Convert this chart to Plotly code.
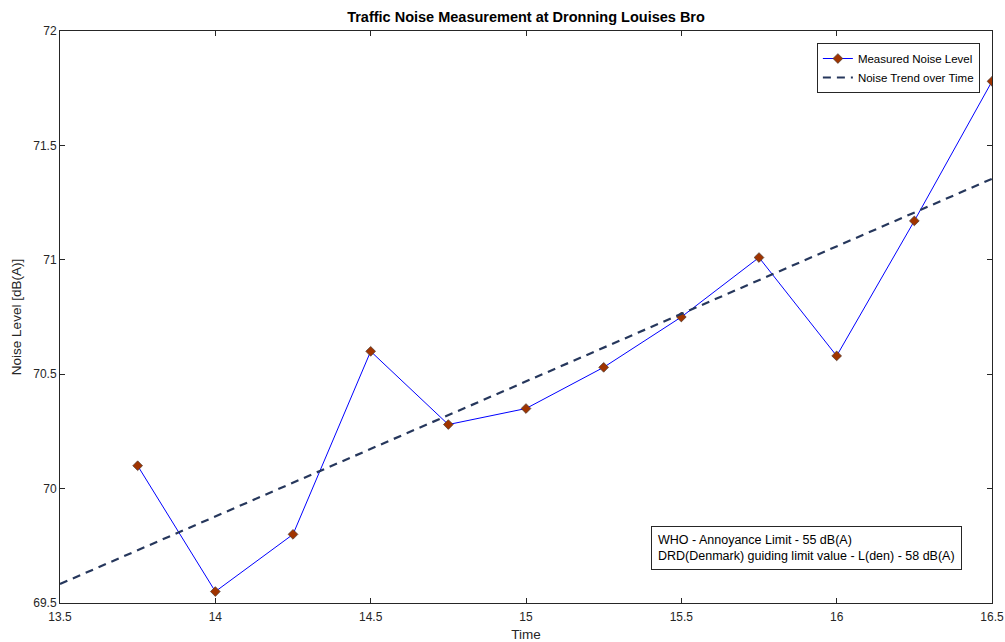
import plotly.graph_objects as go

time_h = [13.75, 14.0, 14.25, 14.5, 14.75, 15.0, 15.25, 15.5, 15.75, 16.0, 16.25, 16.5]
noise_db = [70.10, 69.55, 69.80, 70.60, 70.28, 70.35, 70.53, 70.75, 71.01, 70.58, 71.17, 71.78]
trend_x = [13.5, 16.5]
trend_y = [69.583, 71.354]
x_ticks = [13.5, 14, 14.5, 15, 15.5, 16, 16.5]
y_ticks = [69.5, 70, 70.5, 71, 71.5, 72]
note_lines = ["WHO - Annoyance Limit - 55 dB(A)",
              "DRD(Denmark) guiding limit value - L(den) - 58 dB(A)"]

FONT = "Liberation Sans, Arial, Helvetica, sans-serif"
AX = "#262626"

fig = go.Figure()
fig.add_trace(go.Scatter(
    x=time_h, y=noise_db, mode="lines+markers", name="Measured Noise Level",
    line=dict(color="rgb(0,0,255)", width=1),
    marker=dict(symbol="diamond", size=7.5, color="rgb(160,52,0)",
                line=dict(color="#4a3a30", width=0.7)),
))
fig.add_trace(go.Scatter(
    x=trend_x, y=trend_y, mode="lines", name="Noise Trend over Time",
    line=dict(color="rgb(38,55,92)", width=2.2, dash="8px,6px"),
))

axis_common = dict(
    showgrid=False, zeroline=False, showline=True, linecolor=AX, linewidth=1,
    mirror="ticks", ticks="inside", ticklen=5, tickcolor=AX, tickwidth=1,
    tickfont=dict(family=FONT, size=12, color=AX), automargin=False,
)
fig.update_xaxes(range=[13.5, 16.5], tickvals=x_ticks,
                 ticktext=[f"{v:g}" for v in x_ticks], ticklabelstandoff=3,
                 title=dict(text="Time", font=dict(family=FONT, size=13.5, color=AX), standoff=10),
                 **axis_common)
fig.update_yaxes(range=[69.5, 72], tickvals=y_ticks,
                 ticktext=[f"{v:g}" for v in y_ticks],
                 title=dict(text="Noise Level [dB(A)]", font=dict(family=FONT, size=13.5, color=AX), standoff=8),
                 **axis_common)

fig.add_annotation(
    xref="paper", yref="paper", x=0.8015, y=0.0953, xanchor="center", yanchor="middle",
    text="<br>".join(note_lines), showarrow=False, align="left",
    font=dict(family=FONT, size=12.5, color="#000000"),
    bordercolor="#262626", borderwidth=1, borderpad=6, bgcolor="white",
)

fig.update_layout(
    width=1005, height=642,
    margin=dict(l=60, r=13, t=31, b=39),
    paper_bgcolor="white", plot_bgcolor="white",
    title=dict(text="<b>Traffic Noise Measurement at Dronning Louises Bro</b>",
               x=(60 + 992) / 2 / 1005, xanchor="center", y=1 - 17 / 642, yanchor="middle",
               font=dict(family=FONT, size=14.5, color="#000000")),
    legend=dict(x=0.987, y=0.979, xanchor="right", yanchor="top",
                bordercolor="#262626", borderwidth=1, bgcolor="white",
                font=dict(family=FONT, size=11.5, color="#000000"),
                tracegroupgap=0, itemwidth=30),
    showlegend=True,
)

fig.write_html("out.html", config={"displayModeBar": False},
               post_script="document.body.style.margin='0';document.body.style.overflow='hidden';")
